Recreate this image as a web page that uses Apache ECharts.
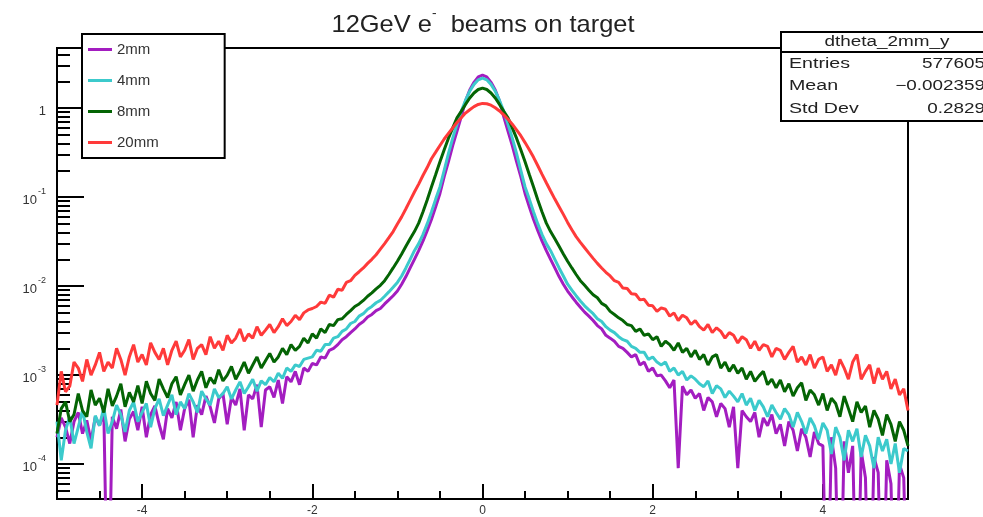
<!DOCTYPE html>
<html>
<head>
<meta charset="utf-8">
<script src="https://cdn.jsdelivr.net/npm/echarts@6/dist/echarts.min.js"></script>
<style>
  html, body { margin: 0; padding: 0; background: #fff; }
  #chart { width: 983px; height: 517px; }
</style>
</head>
<body>
<div id="chart"></div>
<script>
// Histogram binning (bin centres from -5 to 5, width 0.05)
const xStart = -5;
const binWidth = 0.05;

// Series values (per bin)
const seriesNames = ['2mm', '4mm', '8mm', '20mm'];

const h2mm = [
  2.0e-4, 3.3e-4, 2.6e-4, 1.7e-4, 3.0e-4, 3.8e-4, 2.2e-4, 3.1e-4, 1.8e-4, 3.4e-4,
  2.7e-4, 3.9e-4, 1e-6, 3.4e-4, 2.5e-4, 4.1e-4, 1.8e-4, 3.2e-4, 3.9e-4, 2.4e-4,
  4.4e-4, 2.0e-4, 3.6e-4, 4.5e-4, 2.8e-4, 1.9e-4, 4.2e-4, 3.3e-4, 5.0e-4, 2.4e-4,
  4.2e-4, 5.3e-4, 2.0e-4, 4.6e-4, 3.6e-4, 5.8e-4, 4.4e-4, 2.9e-4, 5.4e-4, 6.2e-4,
  2.8e-4, 5.6e-4, 4.6e-4, 7.0e-4, 2.4e-4, 6.0e-4, 5.4e-4, 7.8e-4, 2.6e-4, 6.8e-4,
  7.4e-4, 5.6e-4, 8.8e-4, 4.8e-4, 9.6e-4, 8.4e-4, 1.1e-3, 7.8e-4, 1.2e-3, 1.1e-3,
  1.35e-3, 1.3e-3, 1.6e-3, 1.55e-3, 1.9e-3, 2.0e-3, 2.2e-3, 2.5e-3, 2.7e-3, 3.0e-3,
  3.3e-3, 3.7e-3, 4.0e-3, 4.5e-3, 4.8e-3, 5.3e-3, 5.6e-3, 6.3e-3, 7.0e-3, 7.8e-3,
  0.0088, 0.0105, 0.0128, 0.016, 0.020, 0.025, 0.032, 0.042, 0.056, 0.078,
  0.11, 0.17, 0.25, 0.38, 0.55, 0.8, 1.2, 1.6, 1.95, 2.25,
  2.35, 2.25, 1.95, 1.6, 1.2, 0.8, 0.55, 0.38, 0.25, 0.17,
  0.11, 0.078, 0.056, 0.042, 0.032, 0.025, 0.020, 0.016, 0.0128, 0.0105,
  0.0088, 0.0076, 0.0066, 0.0058, 0.0051, 0.0046, 0.0041, 0.0036, 0.0033, 0.0028,
  0.0026, 0.0024, 0.0021, 0.0020, 0.0018, 0.0016, 0.0017, 0.0013, 0.0014, 0.0011,
  0.0012, 0.00098, 0.0010, 0.00086, 0.00072, 0.00088, 0.00009, 0.00075, 0.00060, 0.00068,
  0.00055, 0.00062, 0.00040, 0.00056, 0.00050, 0.00034, 0.00048, 0.00042, 0.00026, 0.00044,
  0.00009, 0.00040, 0.00034, 0.00030, 0.00038, 0.00020, 0.00033, 0.00027, 0.00036, 0.00022,
  0.00028, 0.00016, 0.00030, 0.00024, 0.00014, 0.00025, 0.00020, 0.00012, 0.00023, 0.00017,
  0.00016, 0.000001, 0.00020, 0.00009, 0.000001, 0.00018, 0.00008, 0.00016, 0.000001, 0.00014,
  0.00007, 0.000001, 0.00012, 0.00008, 0.000001, 0.00011, 0.00006, 0.000001, 0.00010, 0.00007,
  0.000001
];

const h4mm = [
  3.0e-4, 1.1e-4, 2.4e-4, 3.4e-4, 1.7e-4, 2.6e-4, 4.0e-4, 2.3e-4, 1.5e-4, 3.5e-4,
  2.7e-4, 4.3e-4, 2.2e-4, 3.0e-4, 4.6e-4, 3.6e-4, 2.3e-4, 4.0e-4, 5.0e-4, 3.0e-4,
  3.8e-4, 4.8e-4, 2.6e-4, 4.2e-4, 5.4e-4, 3.5e-4, 4.6e-4, 6.0e-4, 3.6e-4, 5.0e-4,
  4.2e-4, 6.2e-4, 5.0e-4, 3.8e-4, 6.6e-4, 5.4e-4, 4.6e-4, 7.0e-4, 5.6e-4, 6.2e-4,
  7.4e-4, 5.4e-4, 6.8e-4, 8.4e-4, 6.2e-4, 7.4e-4, 9.0e-4, 6.6e-4, 8.6e-4, 7.8e-4,
  9.4e-4, 8.4e-4, 1.05e-3, 9.2e-4, 1.2e-3, 1.1e-3, 1.3e-3, 1.25e-3, 1.5e-3, 1.55e-3,
  1.6e-3, 1.9e-3, 1.85e-3, 2.2e-3, 2.2e-3, 2.6e-3, 2.7e-3, 3.1e-3, 3.3e-3, 3.8e-3,
  4.0e-3, 4.6e-3, 4.9e-3, 5.5e-3, 5.9e-3, 6.5e-3, 6.9e-3, 7.7e-3, 8.6e-3, 9.7e-3,
  0.011, 0.013, 0.016, 0.020, 0.025, 0.030, 0.038, 0.05, 0.068, 0.095,
  0.13, 0.2, 0.31, 0.46, 0.66, 0.92, 1.22, 1.55, 1.85, 2.08,
  2.17, 2.08, 1.85, 1.55, 1.22, 0.92, 0.66, 0.46, 0.31, 0.2,
  0.13, 0.095, 0.068, 0.05, 0.038, 0.030, 0.025, 0.020, 0.016, 0.013,
  0.0105, 0.0090, 0.0078, 0.0068, 0.0060, 0.0054, 0.0049, 0.0043, 0.0040, 0.0035,
  0.0032, 0.0030, 0.0027, 0.0025, 0.0024, 0.0021, 0.0020, 0.0018, 0.0018, 0.0015,
  0.0016, 0.0014, 0.0013, 0.0014, 0.0011, 0.0012, 0.0010, 0.0011, 0.00088, 0.00098,
  0.00090, 0.00080, 0.00074, 0.00086, 0.00062, 0.00076, 0.00070, 0.00056, 0.00066, 0.00058,
  0.00050, 0.00062, 0.00046, 0.00055, 0.00040, 0.00052, 0.00044, 0.00034, 0.00046, 0.00038,
  0.00032, 0.00042, 0.00036, 0.00026, 0.00038, 0.00030, 0.00022, 0.00033, 0.00027, 0.00019,
  0.00029, 0.00024, 0.00013, 0.00026, 0.00020, 0.00011, 0.00024, 0.00018, 0.00025, 0.00012,
  0.00021, 0.00016, 0.00009, 0.00020, 0.00014, 0.00019, 0.00010, 0.00017, 0.00008, 0.00015,
  0.00014
];

const h8mm = [
  2.2e-4, 4.2e-4, 5.0e-4, 3.0e-4, 3.6e-4, 6.2e-4, 4.0e-4, 3.4e-4, 6.8e-4, 4.6e-4,
  5.5e-4, 3.8e-4, 7.0e-4, 4.5e-4, 5.8e-4, 8.0e-4, 4.4e-4, 6.4e-4, 5.0e-4, 7.6e-4,
  4.8e-4, 8.5e-4, 6.2e-4, 5.2e-4, 9.0e-4, 7.0e-4, 5.6e-4, 8.0e-4, 9.6e-4, 6.0e-4,
  7.8e-4, 1.0e-3, 6.6e-4, 8.8e-4, 1.1e-3, 7.2e-4, 9.4e-4, 8.0e-4, 1.15e-3, 8.6e-4,
  1.0e-3, 1.25e-3, 9.0e-4, 1.1e-3, 1.4e-3, 1.05e-3, 1.3e-3, 1.6e-3, 1.2e-3, 1.45e-3,
  1.75e-3, 1.4e-3, 1.6e-3, 2.0e-3, 1.7e-3, 2.2e-3, 1.9e-3, 2.1e-3, 2.6e-3, 2.3e-3,
  2.9e-3, 2.6e-3, 3.3e-3, 3.0e-3, 3.7e-3, 3.6e-3, 4.2e-3, 4.3e-3, 4.8e-3, 5.3e-3,
  5.9e-3, 6.3e-3, 6.9e-3, 7.7e-3, 8.4e-3, 9.3e-3, 0.0102, 0.0115, 0.0135, 0.016,
  0.019, 0.023, 0.028, 0.034, 0.041, 0.051, 0.068, 0.093, 0.13, 0.18,
  0.25, 0.34, 0.46, 0.6, 0.78, 0.92, 1.1, 1.3, 1.48, 1.62,
  1.68, 1.62, 1.48, 1.3, 1.1, 0.92, 0.78, 0.6, 0.46, 0.34,
  0.25, 0.18, 0.13, 0.093, 0.068, 0.051, 0.041, 0.034, 0.028, 0.023,
  0.019, 0.016, 0.0135, 0.0115, 0.0102, 0.0090, 0.0080, 0.0074, 0.0064, 0.0060,
  0.0052, 0.0048, 0.0044, 0.0041, 0.0037, 0.0036, 0.0031, 0.0033, 0.0028, 0.0029,
  0.0025, 0.0027, 0.0021, 0.0024, 0.0022, 0.0019, 0.0023, 0.0018, 0.0020, 0.0016,
  0.0019, 0.0015, 0.0017, 0.0013, 0.0016, 0.0017, 0.0012, 0.0014, 0.0011, 0.0013,
  0.00105, 0.0012, 0.00090, 0.0011, 0.00085, 0.00098, 0.0011, 0.00078, 0.00090, 0.00072,
  0.00088, 0.00065, 0.00080, 0.00058, 0.00072, 0.00082, 0.00052, 0.00068, 0.00060, 0.00046,
  0.00062, 0.00040, 0.00055, 0.00048, 0.00034, 0.00058, 0.00042, 0.00030, 0.00050, 0.00038,
  0.00045, 0.00026, 0.00040, 0.00032, 0.00021, 0.00036, 0.00028, 0.00018, 0.00030, 0.00024,
  0.00016
];

const h20mm = [
  4.6e-4, 1.1e-3, 6.5e-4, 7.5e-4, 1.4e-3, 1.2e-3, 8.5e-4, 1.5e-3, 1.0e-3, 1.3e-3,
  1.8e-3, 1.1e-3, 1.4e-3, 1.2e-3, 2.0e-3, 1.5e-3, 1.0e-3, 1.6e-3, 2.2e-3, 1.4e-3,
  1.7e-3, 1.3e-3, 2.3e-3, 1.8e-3, 1.5e-3, 2.0e-3, 1.3e-3, 1.9e-3, 2.4e-3, 1.6e-3,
  1.9e-3, 2.5e-3, 1.5e-3, 2.0e-3, 2.2e-3, 1.7e-3, 2.7e-3, 2.0e-3, 2.4e-3, 1.9e-3,
  2.8e-3, 2.3e-3, 2.6e-3, 3.3e-3, 2.4e-3, 2.9e-3, 2.6e-3, 3.5e-3, 2.8e-3, 3.2e-3,
  3.7e-3, 3.0e-3, 3.5e-3, 4.3e-3, 3.6e-3, 4.0e-3, 4.7e-3, 4.2e-3, 5.0e-3, 5.4e-3,
  5.6e-3, 5.9e-3, 6.6e-3, 6.4e-3, 7.9e-3, 7.5e-3, 9.2e-3, 9.0e-3, 1.1e-2, 1.15e-2,
  1.32e-2, 1.45e-2, 1.6e-2, 1.8e-2, 2.0e-2, 2.25e-2, 2.6e-2, 3.0e-2, 3.5e-2, 4.1e-2,
  5.0e-2, 6.0e-2, 7.4e-2, 9.2e-2, 0.114, 0.14, 0.175, 0.215, 0.27, 0.32,
  0.38, 0.45, 0.52, 0.6, 0.69, 0.78, 0.88, 0.96, 1.04, 1.10,
  1.13, 1.12, 1.08, 1.01, 0.93, 0.84, 0.75, 0.66, 0.57, 0.49,
  0.41, 0.34, 0.28, 0.225, 0.18, 0.145, 0.117, 0.095, 0.078, 0.064,
  0.052, 0.043, 0.036, 0.031, 0.027, 0.0235, 0.0205, 0.018, 0.016, 0.0143,
  0.0130, 0.0115, 0.0110, 0.0095, 0.0094, 0.0082, 0.0081, 0.0070, 0.0071, 0.0061,
  0.0060, 0.0052, 0.0057, 0.0055, 0.0046, 0.0050, 0.0041, 0.0047, 0.0044, 0.0037,
  0.0041, 0.0035, 0.0032, 0.0037, 0.0030, 0.0034, 0.0031, 0.0026, 0.0030, 0.0028,
  0.0023, 0.0027, 0.0025, 0.0020, 0.0024, 0.0019, 0.0022, 0.0021, 0.0016, 0.0020,
  0.0019, 0.0015, 0.0018, 0.0021, 0.0014, 0.0016, 0.0013, 0.0017, 0.0012, 0.0015,
  0.0016, 0.0011, 0.0013, 0.0010, 0.0015, 0.0012, 0.0009, 0.0014, 0.0017, 0.0009,
  0.0011, 0.0013, 0.0008, 0.0012, 0.0009, 0.0011, 0.0007, 0.0009, 0.0006, 0.0007,
  0.0004
];

// Axis tick values
const xMajorTicks = [-4, -2, 0, 2, 4];
const xMinorTicks = [-4.5, -3.5, -3, -2.5, -1.5, -1, -0.5, 0.5, 1, 1.5, 2.5, 3, 3.5, 4.5];
const yMajorTicks = [1e-4, 1e-3, 1e-2, 1e-1, 1];
const yMinorTicks = [
  5e-5, 6e-5, 7e-5, 8e-5, 9e-5,
  2e-4, 3e-4, 4e-4, 5e-4, 6e-4, 7e-4, 8e-4, 9e-4,
  2e-3, 3e-3, 4e-3, 5e-3, 6e-3, 7e-3, 8e-3, 9e-3,
  2e-2, 3e-2, 4e-2, 5e-2, 6e-2, 7e-2, 8e-2, 9e-2,
  0.2, 0.3, 0.4, 0.5, 0.6, 0.7, 0.8, 0.9,
  2, 3, 4
];

// Stats box text
const statsTitle = 'dtheta_2mm_y';
const statsLabels = ['Entries', 'Mean', 'Std Dev'];
const statsValues = ['577605', '\u22120.002359', '0.2829'];

const colors = ['#a31dc0', '#3ccacc', '#046404', '#ff3a3a'];
const allHists = [h2mm, h4mm, h8mm, h20mm];

const xs = h2mm.map((_, i) => +(xStart + i * binWidth).toFixed(2));

const FONT = 'Liberation Sans, Arial, Helvetica, sans-serif';
const chart = echarts.init(document.getElementById('chart'), null, { renderer: 'canvas' });

const yMin = 4.05e-5, yMax = 4.74;

function yLabel(v) {
  const e = Math.round(Math.log10(v));
  if (e === 0) return '{t|1}';
  return '{t|10}{s|' + e + '}';
}

const statsGraphics = [
  { type: 'rect', shape: { x: 781, y: 32, width: 240, height: 89 },
    style: { fill: '#fff', stroke: '#000', lineWidth: 2 }, z: 100 },
  { type: 'line', shape: { x1: 781, y1: 52, x2: 983, y2: 52 },
    style: { stroke: '#000', lineWidth: 2 }, z: 101 },
  { type: 'text', x: 887, y: 42, scaleX: 1.35, z: 102,
    style: { text: statsTitle, font: '14px ' + FONT, fill: '#222', textAlign: 'center', textVerticalAlign: 'middle' } }
];
statsLabels.forEach((lab, i) => {
  const yy = [64, 86, 109][i];
  statsGraphics.push({ type: 'text', x: 789, y: yy, scaleX: 1.4, z: 102,
    style: { text: lab, font: '14px ' + FONT, fill: '#222', textAlign: 'left', textVerticalAlign: 'middle' } });
  statsGraphics.push({ type: 'text', x: 985, y: yy, scaleX: 1.35, z: 102,
    style: { text: statsValues[i], font: '14px ' + FONT, fill: '#222', textAlign: 'right', textVerticalAlign: 'middle' } });
});

const option = {
  animation: false,
  backgroundColor: '#fff',
  textStyle: { fontFamily: FONT },
  grid: { left: 57, right: 75, top: 48, bottom: 17, show: true, borderColor: '#000', borderWidth: 2, backgroundColor: 'transparent' },
  legend: {
    data: seriesNames,
    orient: 'vertical',
    left: 82, top: 34,
    icon: 'rect', itemWidth: 24, itemHeight: 3, itemGap: 16,
    padding: [8, 66, 8, 6],
    backgroundColor: '#fff', borderColor: '#000', borderWidth: 2, borderRadius: 0,
    selectedMode: false,
    textStyle: { fontSize: 15, color: '#333', fontFamily: FONT }
  },
  xAxis: [
    {
      type: 'value', min: -5, max: 5, position: 'bottom',
      axisLine: { show: true, onZero: false, lineStyle: { color: '#000', width: 2 } },
      splitLine: { show: false },
      axisTick: { show: true, inside: true, length: 15, customValues: xMajorTicks, lineStyle: { color: '#000', width: 2 } },
      axisLabel: { customValues: xMajorTicks, color: '#333', fontSize: 12, margin: 6, fontFamily: FONT }
    },
    {
      type: 'value', min: -5, max: 5, position: 'bottom',
      axisLine: { show: false, onZero: false },
      splitLine: { show: false },
      axisTick: { show: true, inside: true, length: 8, customValues: xMinorTicks, lineStyle: { color: '#000', width: 2 } },
      axisLabel: { show: false }
    }
  ],
  yAxis: [
    {
      type: 'log', logBase: 10, min: yMin, max: yMax, position: 'left',
      axisLine: { show: true, onZero: false, lineStyle: { color: '#000', width: 2 } },
      splitLine: { show: false },
      axisTick: { show: true, inside: true, length: 27, customValues: yMajorTicks, lineStyle: { color: '#000', width: 2 } },
      axisLabel: {
        customValues: yMajorTicks, margin: 11, color: '#333', fontFamily: FONT,
        formatter: yLabel,
        rich: {
          t: { fontSize: 13, lineHeight: 20, verticalAlign: 'bottom', color: '#333', fontFamily: FONT },
          s: { fontSize: 9, lineHeight: 11, verticalAlign: 'top', color: '#333', fontFamily: FONT, padding: [0, 0, 0, 1] }
        }
      }
    },
    {
      type: 'log', logBase: 10, min: yMin, max: yMax, position: 'left',
      axisLine: { show: false, onZero: false },
      splitLine: { show: false },
      axisTick: { show: true, inside: true, length: 13, customValues: yMinorTicks, lineStyle: { color: '#000', width: 2 } },
      axisLabel: { show: false }
    }
  ],
  series: allHists.map((h, k) => ({
    name: seriesNames[k],
    type: 'line',
    xAxisIndex: 0, yAxisIndex: 0,
    data: xs.map((x, i) => [x, h[i]]),
    showSymbol: false, symbol: 'none',
    clip: true,
    lineStyle: { color: colors[k], width: 3 },
    itemStyle: { color: colors[k] },
    z: 2 + k
  })),
  graphic: [
    { type: 'text', x: 483, y: 22, scaleX: 1.06, z: 100,
      style: { text: '{m|12GeV e}{s|-}{m|  beams on target}', textAlign: 'center', textVerticalAlign: 'middle',
        rich: {
          m: { fontSize: 24, lineHeight: 30, verticalAlign: 'bottom', fill: '#222', fontFamily: FONT },
          s: { fontSize: 13, lineHeight: 14, verticalAlign: 'top', fill: '#222', fontFamily: FONT }
        } } }
  ].concat(statsGraphics)
};

chart.setOption(option);
</script>
</body>
</html>
